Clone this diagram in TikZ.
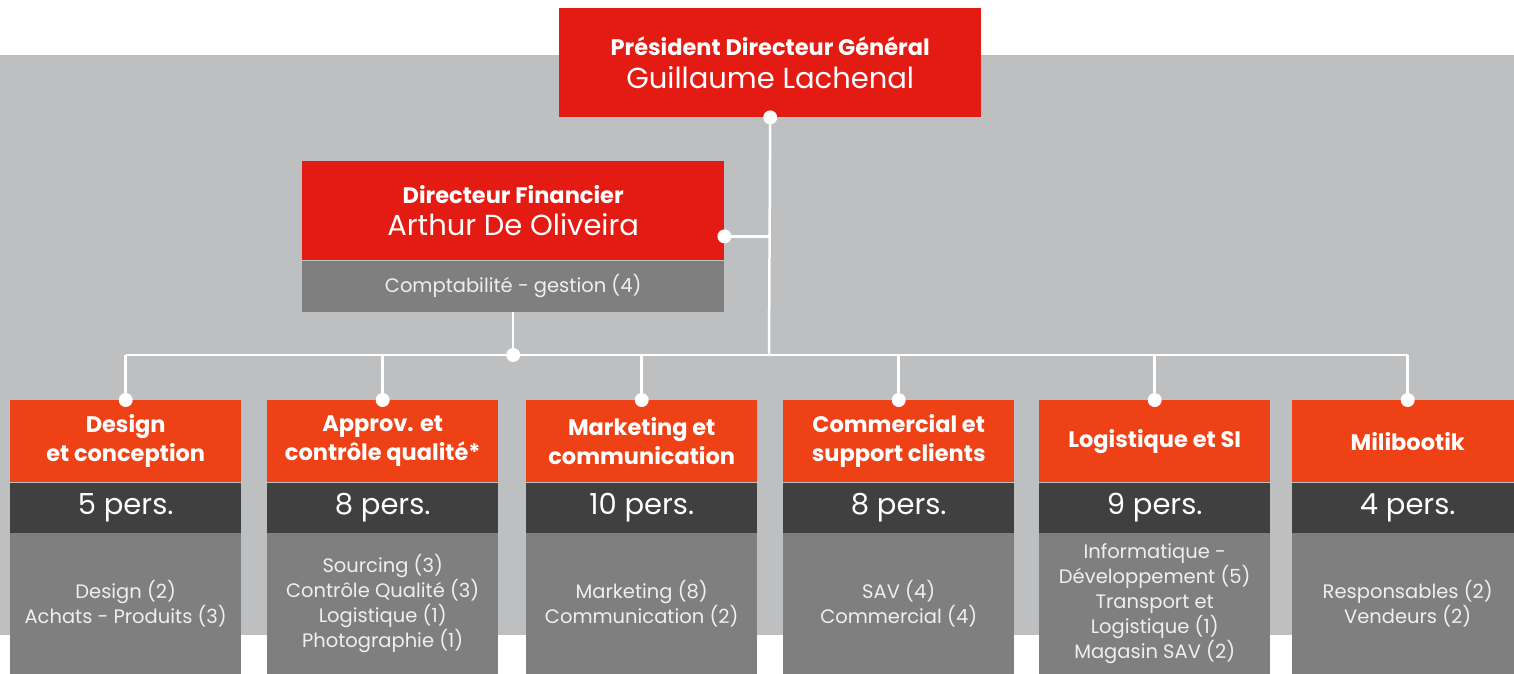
\documentclass[tikz,border=0pt]{standalone}
\usepackage{fontspec}
\setmainfont{Poppins}
\usetikzlibrary{positioning,calc}
\definecolor{chiefred}{HTML}{E31B13}
\definecolor{deptorange}{HTML}{EF4116}
\definecolor{countgray}{HTML}{404040}
\definecolor{itemgray}{HTML}{7F7F7F}
\definecolor{bandgray}{HTML}{BEBFC1}
\definecolor{itemtext}{HTML}{EFEFEF}
\newcommand\orgtitle{\fontsize{22.5}{29}\selectfont\bfseries}
\newcommand\orgname{\fontsize{29}{33}\selectfont}
\newcommand\orgcount{\fontsize{29}{30}\selectfont}
\newcommand\orgitem{\fontsize{19.5}{25}\selectfont}
\tikzset{
        chief/.style={fill=chiefred, text=white, minimum width=422pt, align=center, inner sep=0pt},
        sub/.style={fill=itemgray, text=itemtext, minimum width=422pt, minimum height=51pt, inner sep=0pt, font=\orgitem},
        dept/.style={fill=deptorange, text=white, minimum width=231pt, minimum height=82pt, align=center, inner sep=0pt, font=\orgtitle},
        headcount/.style={fill=countgray, text=white, minimum width=231pt, minimum height=50pt, inner sep=0pt, font=\orgcount},
        items/.style={fill=itemgray, text=itemtext, minimum width=231pt, minimum height=141pt, align=center, inner sep=0pt, font=\orgitem},
        wire/.style={draw=white, line width=2.5pt},
        knob/.style={fill=white}
          }
\begin{document}
\begin{tikzpicture}[x=1pt, y=-1pt]
        \clip (0,0) rectangle (1514,673);
        \fill[bandgray] (0,55) rectangle (1514,635);

        % direction
        \node[chief, minimum height=109pt, anchor=north west] (pdg) at (559,8)
          {{\orgtitle Président Directeur Général}\\[9pt]{\orgname Guillaume Lachenal}};
        \node[chief, minimum height=99pt, anchor=north west] (cfo) at (302,161)
          {{\orgtitle Directeur Financier}\\[9pt]{\orgname Arthur De Oliveira}};
        \node[sub, below=0pt of cfo] (compta) {Comptabilité - gestion (4)};

        % services
        \node[dept, anchor=north west] (design) at (10,400) {Design\\et conception};
        \node[headcount, below=0pt of design] (designn) {5 pers.};
        \node[items, below=0pt of designn] (designi) {Design (2)\\Achats - Produits (3)};

        \node[dept, anchor=north west] (approv) at (267,400) {Approv. et\\contrôle qualité*};
        \node[headcount, below=0pt of approv] (approvn) {8 pers.};
        \node[items, below=0pt of approvn] (approvi)
          {Sourcing (3)\\Contrôle Qualité (3)\\Logistique (1)\\Photographie (1)};

        \node[dept, anchor=north west] (market) at (526,400) {Marketing et\\communication};
        \node[headcount, below=0pt of market] (marketn) {10 pers.};
        \node[items, below=0pt of marketn] (marketi) {Marketing (8)\\Communication (2)};

        \node[dept, anchor=north west] (comm) at (783,400) {Commercial et\\support clients};
        \node[headcount, below=0pt of comm] (commn) {8 pers.};
        \node[items, below=0pt of commn] (commi) {SAV (4)\\Commercial (4)};

        \node[dept, anchor=north west] (logi) at (1039,400) {Logistique et SI};
        \node[headcount, below=0pt of logi] (login) {9 pers.};
        \node[items, below=0pt of login] (logii)
          {Informatique -\\Développement (5)\\Transport et\\Logistique (1)\\Magasin SAV (2)};

        \node[dept, anchor=north west] (mili) at (1292,400) {Milibootik};
        \node[headcount, below=0pt of mili] (milin) {4 pers.};
        \node[items, below=0pt of milin] (milii) {Responsables (2)\\Vendeurs (2)};

        % liaisons
        \coordinate (bus) at (769,355);
        \coordinate (cfolink) at ($(cfo.north east)!.5!(compta.south east)$);
        \draw[wire] (pdg.south) -- (bus);
        \draw[wire] (cfolink) -- (cfolink -| bus);
        \draw[wire] (compta.south) -- (compta.south |- bus);
        \draw[wire] (design.north |- bus) -- (mili.north |- bus);
        \draw[wire] (design.north |- bus) -- (design.north);
        \draw[wire] (approv.north |- bus) -- (approv.north);
        \draw[wire] (market.north |- bus) -- (market.north);
        \draw[wire] (comm.north |- bus) -- (comm.north);
        \draw[wire] (logi.north |- bus) -- (logi.north);
        \draw[wire] (mili.north |- bus) -- (mili.north);

        \fill[knob] (pdg.south) circle (7pt) (cfolink) circle (7pt)
          (compta.south |- bus) circle (7pt);
        \fill[knob] (design.north) circle (7pt) (approv.north) circle (7pt)
          (market.north) circle (7pt) (comm.north) circle (7pt)
          (logi.north) circle (7pt) (mili.north) circle (7pt);
\end{tikzpicture}
\end{document}
